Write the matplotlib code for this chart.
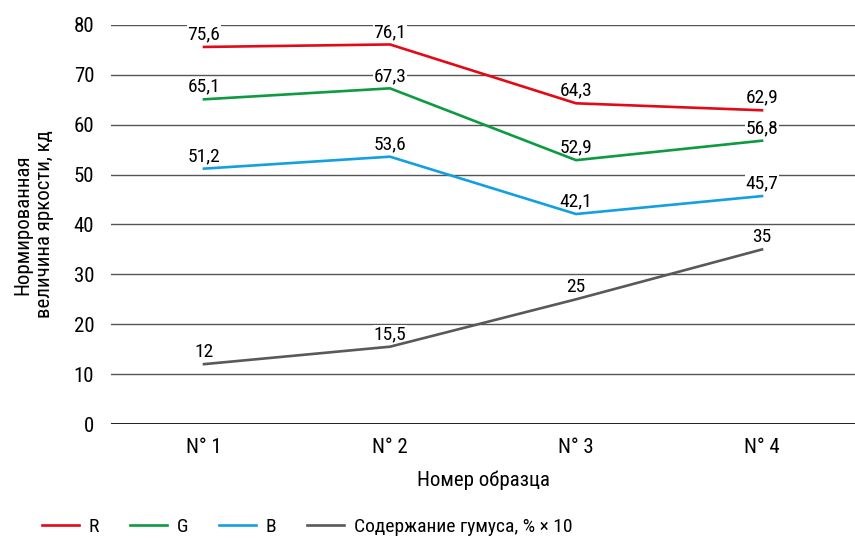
import matplotlib.pyplot as plt

plt.rcParams['font.family'] = ['Roboto Condensed', 'Roboto', 'DejaVu Sans']

# sample labels and values
samples = ['N° 1', 'N° 2', 'N° 3', 'N° 4']
r_vals = [75.6, 76.1, 64.3, 62.9]
g_vals = [65.1, 67.3, 52.9, 56.8]
b_vals = [51.2, 53.6, 42.1, 45.7]
humus = [12, 15.5, 25, 35]

series = [
    ('R', r_vals, '#e30a17'),
    ('G', g_vals, '#0d9a40'),
    ('B', b_vals, '#139fe0'),
    ('Содержание гумуса, % × 10', humus, '#595959'),
]

fig = plt.figure(figsize=(8.55, 5.4), dpi=100)
ax = fig.add_axes([111 / 855, 116 / 540, 744 / 855, 399 / 540])

x = list(range(len(samples)))
for name, vals, col in series:
    ax.plot(x, vals, color=col, lw=1.9, label=name, zorder=3)
    for xi, v in zip(x, vals):
        lab = ('%g' % v).replace('.', ',')
        ax.annotate(lab, (xi, v), xytext=(0, 2.5), textcoords='offset points',
                    ha='center', va='bottom', fontsize=14, zorder=2.5,
                    bbox=dict(boxstyle='square,pad=0.02', fc='white', ec='none'))

ax.set_xlim(-0.5, 3.5)
ax.set_ylim(0, 80)
ax.set_yticks(range(0, 81, 10))
ax.set_xticks(x)
ax.set_xticklabels(samples)
ax.grid(axis='y', color='#555555', lw=1.0, zorder=1)
ax.axhline(0, color='black', lw=1.2, zorder=2)
for s in ax.spines.values():
    s.set_visible(False)
ax.tick_params(length=0, labelsize=15, pad=12)
ax.tick_params(axis='x', pad=10)

ax.set_xlabel('Номер образца', fontsize=15, labelpad=10)
ax.set_ylabel('Нормированная\nвеличина яркости, кд', fontsize=15, labelpad=14)

fig.legend(loc='center left', bbox_to_anchor=(28 / 855, 1 - 527 / 540), ncol=4,
           frameon=False, fontsize=14, handlelength=1.9, columnspacing=1.6,
           handletextpad=0.5, borderpad=0.2)

fig.savefig('out.png', dpi=100)
